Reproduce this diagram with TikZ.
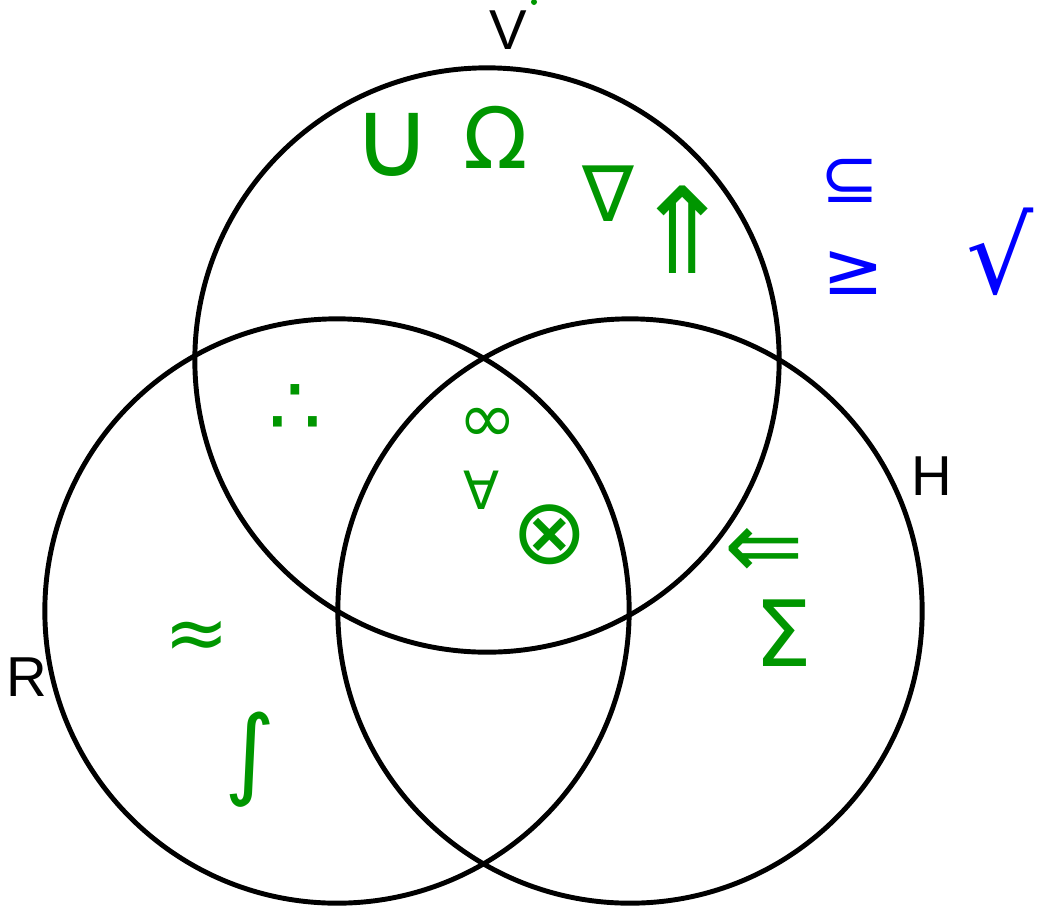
\documentclass[tikz,border=0pt]{standalone}
\usepackage{fontspec}
\setmainfont{Liberation Sans}
\newfontfamily\symfont{DejaVu Sans}
\definecolor{inkgreen}{RGB}{0,150,0}
\definecolor{inkblue}{RGB}{0,0,255}
\newcommand{\symsize}[1]{\symfont\fontsize{#1}{#1}\selectfont}
\tikzset{
  setcircle/.style={draw, line width=1.4pt, circle, minimum size=5.84cm, inner sep=0pt},
  setlabel/.style={font=\fontsize{16}{16}\selectfont, inner sep=0pt},
  greenmark/.style={text=inkgreen, inner sep=0pt},
  bluemark/.style={text=inkblue, inner sep=0pt}
}
\begin{document}
\begin{tikzpicture}[x=0.01cm, y=-0.01cm]
  \useasboundingbox (0,0) rectangle (1048,905);
  % the three sets
  \node[setcircle] (V) at (487,360) {};
  \node[setcircle] (R) at (337,611) {};
  \node[setcircle] (H) at (630,611) {};
  \node[setlabel] (Vlabel) at (508,30) {V};
  \node[setlabel] (Rlabel) at (27,677) {R};
  \node[setlabel] (Hlabel) at (932,476) {H};
  % symbols in the sets
  \node[greenmark, font=\symsize{31}] (cup) at (392,145) {∪};
  \node[greenmark, font=\symsize{24}] (omega) at (496,137) {Ω};
  \node[greenmark, font=\symsize{22}] (nabla) at (608,194) {∇};
  \node[greenmark, font=\symsize{34}] (upup) at (683,230) {⇑};
  \node[greenmark, font=\symsize{24}] (therefore) at (295,410) {∴};
  \node[greenmark, font=\symsize{20}] (infty) at (488,425) {∞};
  \node[greenmark, font=\symsize{15}] (forall) at (482,490) {∀};
  \node[greenmark, font=\symsize{26}] (otimes) at (550,535) {⊗};
  \node[greenmark, font=\symsize{27}] (leftleft) at (764,553) {⇐};
  \node[greenmark, font=\symsize{26}] (sigma) at (783,633) {Σ};
  \node[greenmark, font=\symsize{22}] (approx) at (197,640) {≈};
  \node[greenmark, font=\symsize{28}] (integral) at (250,760) {∫};
  % symbols outside
  \node[bluemark, font=\symsize{20}] (subset) at (850,181) {⊆};
  \node[bluemark, font=\symsize{21}] (geq) at (853,273) {≥};
  \node[bluemark, font=\symsize{30}] (root) at (1000,252) {√};
  \fill[inkgreen] (534,2) circle (0.03cm);
\end{tikzpicture}
\end{document}
